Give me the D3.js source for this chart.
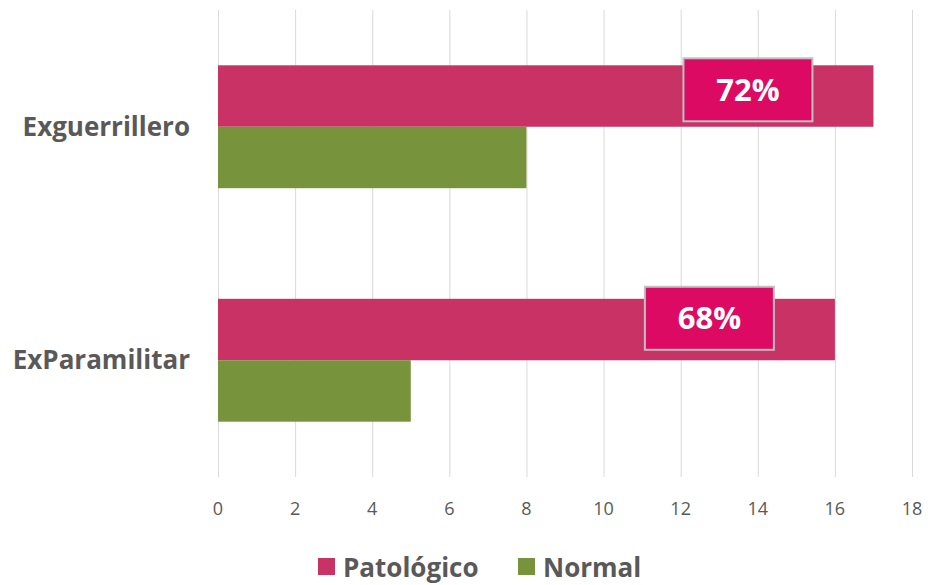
<!DOCTYPE html>
<html>
<head>
<meta charset="utf-8">
<script src="https://cdn.jsdelivr.net/npm/d3@7"></script>
<style>
  body { margin: 0; background: #fff; }
  text { font-family: "Open Sans", "Liberation Sans", sans-serif; }
</style>
</head>
<body>
<script>
// chart values
var categories = ['Exguerrillero', 'ExParamilitar'];
var seriesNames = ['Patológico', 'Normal'];
var patologico = [17, 16];
var normal = [8, 5];
var percentLabels = ['72%', '68%'];
var xTicks = [0, 2, 4, 6, 8, 10, 12, 14, 16, 18];
var colors = ['#c83264', '#77933c'];

var width = 931, height = 585;
var svg = d3.select('body').append('svg')
  .attr('width', width)
  .attr('height', height);

var x = d3.scaleLinear().domain([0, 18]).range([218, 912]);
var y = d3.scaleBand().domain(categories).range([10, 477]);
var inner = d3.scaleBand().domain(seriesNames).range([0, y.bandwidth()]).paddingOuter(0.9).paddingInner(0);

// gridlines
svg.append('g').selectAll('line').data(xTicks)
  .enter().append('line')
  .attr('x1', function(d){ return x(d) + 0.5 })
  .attr('x2', function(d){ return x(d) + 0.5 })
  .attr('y1', 10)
  .attr('y2', 477)
  .attr('stroke', '#d9d9d9')
  .attr('stroke-width', 1);

// bars
var rows = categories.map(function(c, i){
  return [{cat: c, s: seriesNames[0], v: patologico[i], col: colors[0]},
          {cat: c, s: seriesNames[1], v: normal[i], col: colors[1]}];
});
var flat = [].concat.apply([], rows);

svg.append('g').selectAll('rect').data(flat)
  .enter().append('rect')
  .attr('x', x(0))
  .attr('y', function(d){ return y(d.cat) + inner(d.s) })
  .attr('width', function(d){ return x(d.v) - x(0) })
  .attr('height', inner.bandwidth())
  .attr('fill', function(d){ return d.col });

// percentage boxes inside the pink bars
var boxW = 129, boxH = 63;
var boxShift = [-7, -12];
var boxes = svg.append('g').selectAll('g').data(categories)
  .enter().append('g')
  .attr('transform', function(d, i){
    var right = x(patologico[i]) - 61;
    var top = y(d) + inner(seriesNames[0]) + boxShift[i];
    return 'translate(' + (right - boxW) + ',' + top + ')';
  });
boxes.append('rect')
  .attr('width', boxW)
  .attr('height', boxH)
  .attr('fill', '#dc0a62')
  .attr('stroke', '#bfbfbf')
  .attr('stroke-width', 2);
boxes.append('text')
  .attr('x', boxW / 2)
  .attr('y', boxH / 2 + 11)
  .attr('text-anchor', 'middle')
  .attr('fill', '#fff')
  .attr('font-weight', 'bold')
  .attr('font-size', 31)
  .text(function(d, i){ return percentLabels[i] });

// category labels
svg.append('g').selectAll('text').data(categories)
  .enter().append('text')
  .attr('x', 190)
  .attr('y', function(d){ return y(d) + y.bandwidth() / 2 + 9 })
  .attr('text-anchor', 'end')
  .attr('fill', '#595959')
  .attr('font-weight', 'bold')
  .attr('font-size', 26)
  .text(function(d){ return d });

// x axis tick labels
svg.append('g').selectAll('text').data(xTicks)
  .enter().append('text')
  .attr('x', function(d){ return x(d) })
  .attr('y', 515)
  .attr('text-anchor', 'middle')
  .attr('fill', '#595959')
  .attr('font-size', 18)
  .text(function(d){ return d });

// legend
var legend = svg.append('g');
var legendItems = [{name: seriesNames[0], x: 318}, {name: seriesNames[1], x: 518}];
legendItems.forEach(function(item, i){
  legend.append('rect')
    .attr('x', item.x)
    .attr('y', 558)
    .attr('width', 17)
    .attr('height', 17)
    .attr('fill', colors[i]);
  legend.append('text')
    .attr('x', item.x + 25)
    .attr('y', 577)
    .attr('fill', '#595959')
    .attr('font-weight', 'bold')
    .attr('font-size', 26)
    .text(item.name);
});
</script>
</body>
</html>
